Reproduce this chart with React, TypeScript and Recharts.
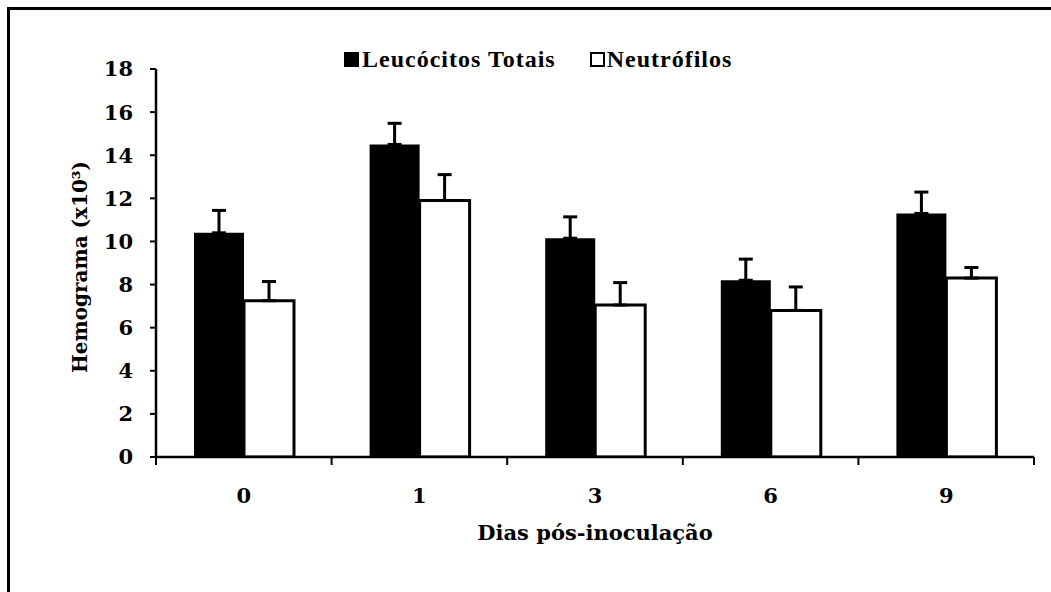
import { BarChart, Bar, XAxis, YAxis, ErrorBar } from "recharts";

const days = ["0", "1", "3", "6", "9"];
const leucocitos = [10.4, 14.5, 10.15, 8.2, 11.3];
const leucocitosErr = [1.04, 0.98, 0.99, 0.98, 0.99];
const neutrofilos = [7.25, 11.9, 7.05, 6.8, 8.3];
const neutrofilosErr = [0.89, 1.2, 1.04, 1.09, 0.49];
const yTicks = [0, 2, 4, 6, 8, 10, 12, 14, 16, 18];
const seriesNames = ["Leucócitos Totais", "Neutrófilos"];

const data = days.map((d, i) => ({
  day: d,
  leu: leucocitos[i],
  leuErr: [0, leucocitosErr[i]],
  neu: neutrofilos[i],
  neuErr: [0, neutrofilosErr[i]],
}));

const tickFont = "'DejaVu Serif', serif";

function DayTick(props: any) {
  const { x, y, payload, index, visibleTicksCount } = props;
  const off = payload.offset || 0;
  const last = index === visibleTicksCount - 1;
  return (
    <g>
      <line x1={x - off} y1={y - 8} x2={x - off} y2={y} stroke="#000" strokeWidth={2} />
      {last && <line x1={x + off} y1={y - 8} x2={x + off} y2={y} stroke="#000" strokeWidth={2} />}
      <text x={x} y={y + 38} textAnchor="middle" fontFamily={tickFont} fontWeight="bold" fontSize={21} fill="#000">
        {payload.value}
      </text>
    </g>
  );
}

function YTitle(props: any) {
  const { viewBox } = props;
  const cx = 80;
  const cy = viewBox.y + viewBox.height / 2 + 4;
  return (
    <text x={cx} y={cy} transform={`rotate(-90 ${cx} ${cy})`} textAnchor="middle" dominantBaseline="central"
      fontFamily={tickFont} fontWeight="bold" fontSize={20} fill="#000">
      Hemograma (x10³)
    </text>
  );
}

export default function App() {
  return (
    <div style={{ position: "absolute", left: 0, top: 0, width: 1051, height: 592, background: "#fff" }}>
      {/* frame: only top and left edges are visible */}
      <div style={{ position: "absolute", left: 7, top: 7, width: 1044, height: 3, background: "#000" }} />
      <div style={{ position: "absolute", left: 7, top: 7, width: 3, height: 585, background: "#000" }} />

      {/* legend */}
      <div style={{ position: "absolute", left: 344, top: 46, display: "flex", alignItems: "center",
        fontFamily: "Liberation Serif, 'Times New Roman', serif", fontWeight: "bold", fontSize: 24,
        letterSpacing: 1, color: "#000", lineHeight: "26px" }}>
        <span style={{ width: 15, height: 15, background: "#000", display: "inline-block", marginRight: 3 }} />
        <span>{seriesNames[0]}</span>
        <span style={{ width: 11, height: 11, border: "2px solid #000", background: "#fff", display: "inline-block", marginLeft: 34, marginRight: 2 }} />
        <span>{seriesNames[1]}</span>
      </div>

      <BarChart width={1051} height={592} data={data} margin={{ top: 69, right: 17, bottom: 35, left: 0 }}
        barGap={0} style={{ position: "absolute", left: 0, top: 0 }}>
        <XAxis dataKey="day" height={100} tickSize={8} tickMargin={0} tickLine={false}
          axisLine={{ stroke: "#000", strokeWidth: 2.5 }} tick={<DayTick />}
          label={{ value: "Dias pós-inoculação", position: "insideBottom", offset: 17,
            style: { fontFamily: tickFont, fontWeight: "bold", fontSize: 21, fill: "#000" } }} />
        <YAxis width={156} domain={[0, 18]} ticks={yTicks} interval={0} tickSize={6} tickMargin={17}
          axisLine={{ stroke: "#000", strokeWidth: 2.5 }} tickLine={{ stroke: "#000", strokeWidth: 2 }}
          tick={{ fill: "#000", fontFamily: tickFont, fontWeight: "bold", fontSize: 21 }}
          label={<YTitle />} allowDataOverflow />
        <Bar dataKey="leu" name={seriesNames[0]} fill="#000" barSize={50} isAnimationActive={false}>
          <ErrorBar dataKey="leuErr" direction="y" width={7} stroke="#000" strokeWidth={3} isAnimationActive={false} />
        </Bar>
        <Bar dataKey="neu" name={seriesNames[1]} fill="#fff" stroke="#000" strokeWidth={3} barSize={50} isAnimationActive={false}>
          <ErrorBar dataKey="neuErr" direction="y" width={7} stroke="#000" strokeWidth={3} isAnimationActive={false} />
        </Bar>
      </BarChart>
    </div>
  );
}
